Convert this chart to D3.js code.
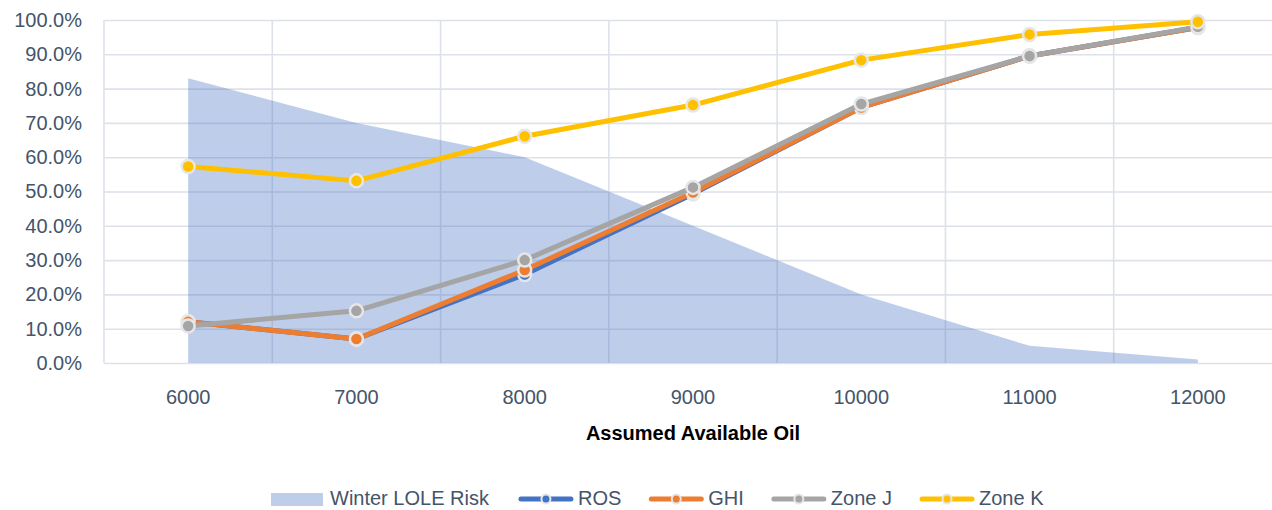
<!DOCTYPE html>
<html>
<head>
<meta charset="utf-8">
<script src="https://cdn.jsdelivr.net/npm/d3@7"></script>
<style>
  html, body { margin: 0; padding: 0; background: #fff; }
  svg { display: block; font-family: "Liberation Sans", Arial, sans-serif; }
</style>
</head>
<body>
<svg id="chart" width="1272" height="510"></svg>
<script>
// Assumed available oil levels (x categories)
const categories = ["6000", "7000", "8000", "9000", "10000", "11000", "12000"];

// Winter LOLE risk (shaded area)
const winterLoleRisk = [0.83, 0.70, 0.60, 0.40, 0.20, 0.05, 0.01];

// Zone lines
const ros   = [0.120, 0.070, 0.258, 0.493, 0.745, 0.895, 0.978];
const ghi   = [0.120, 0.070, 0.271, 0.497, 0.745, 0.895, 0.978];
const zoneJ = [0.108, 0.152, 0.300, 0.512, 0.755, 0.895, 0.980];
const zoneK = [0.573, 0.531, 0.661, 0.752, 0.883, 0.958, 0.995];

const yTicks = [0, 0.1, 0.2, 0.3, 0.4, 0.5, 0.6, 0.7, 0.8, 0.9, 1.0];

const lineSeries = [
  { name: "ROS",    values: ros,   color: "#4472C4" },
  { name: "GHI",    values: ghi,   color: "#ED7D31" },
  { name: "Zone J", values: zoneJ, color: "#A5A5A5" },
  { name: "Zone K", values: zoneK, color: "#FFC000" }
];

const svg = d3.select("#chart");
const plot = { left: 104, right: 1282, top: 20, bottom: 363 };
const textColor = "#44546A";
const gridColor = "#DDE1E9";

const x = d3.scaleBand().domain(categories).range([plot.left, plot.right]).padding(0);
const cx = c => x(c) + x.bandwidth() / 2;
const y = d3.scaleLinear().domain([0, 1]).range([plot.bottom, plot.top]);

// Horizontal gridlines + y labels
const yAxis = svg.append("g")
  .attr("transform", `translate(${plot.left},0)`)
  .call(d3.axisLeft(y).tickValues(yTicks).tickFormat(d3.format(".1%"))
        .tickSize(-(plot.right - plot.left)).tickPadding(22));
yAxis.select(".domain").remove();
yAxis.selectAll(".tick line").attr("stroke", gridColor).attr("stroke-width", 1.6);
yAxis.selectAll(".tick text").attr("fill", textColor).attr("font-size", 20)
  .attr("font-family", "Liberation Sans, Arial, sans-serif");

// Vertical gridlines at category boundaries
svg.append("g").selectAll("line")
  .data(categories.concat([null]))
  .join("line")
  .attr("x1", (d, i) => plot.left + i * x.bandwidth())
  .attr("x2", (d, i) => plot.left + i * x.bandwidth())
  .attr("y1", plot.top).attr("y2", plot.bottom)
  .attr("stroke", gridColor).attr("stroke-width", 1.6);

// X axis labels
const xAxis = svg.append("g")
  .attr("transform", `translate(0,${plot.bottom})`)
  .call(d3.axisBottom(x).tickSize(0).tickPadding(27));
xAxis.select(".domain").remove();
xAxis.selectAll(".tick text").attr("fill", textColor).attr("font-size", 20)
  .attr("font-family", "Liberation Sans, Arial, sans-serif");

// Axis title
svg.append("text")
  .attr("x", (cx(categories[0]) + cx(categories[categories.length - 1])) / 2)
  .attr("y", 440)
  .attr("text-anchor", "middle")
  .attr("font-size", 20).attr("font-weight", "bold").attr("fill", "#000")
  .text("Assumed Available Oil");

// Winter LOLE Risk area
const area = d3.area()
  .x((d, i) => cx(categories[i]))
  .y0(y(0))
  .y1(d => y(d));
svg.append("path")
  .datum(winterLoleRisk)
  .attr("d", area)
  .attr("fill", "#4472C4")
  .attr("fill-opacity", 0.35);

// Lines with markers
const line = d3.line().x((d, i) => cx(categories[i])).y(d => y(d));
lineSeries.forEach(s => {
  const g = svg.append("g");
  g.append("path")
    .datum(s.values)
    .attr("d", line)
    .attr("fill", "none")
    .attr("stroke", s.color)
    .attr("stroke-width", 5)
    .attr("stroke-linejoin", "round");
  g.selectAll("circle")
    .data(s.values)
    .join("circle")
    .attr("cx", (d, i) => cx(categories[i]))
    .attr("cy", d => y(d))
    .attr("r", 6.5)
    .attr("fill", s.color)
    .attr("stroke", "#E6E6E6")
    .attr("stroke-width", 2.5);
});

// Legend
const legend = svg.append("g").attr("font-size", 20).attr("fill", textColor);
let lx = 271;
const ly = 499;
legend.append("rect")
  .attr("x", lx).attr("y", ly - 6).attr("width", 52).attr("height", 13)
  .attr("fill", "#4472C4").attr("fill-opacity", 0.35);
lx += 59;
let t = legend.append("text").attr("x", lx).attr("y", ly + 6).text("Winter LOLE Risk");
lx += t.node().getComputedTextLength() + 30;

lineSeries.forEach(s => {
  legend.append("line")
    .attr("x1", lx + 2).attr("x2", lx + 52)
    .attr("y1", ly).attr("y2", ly)
    .attr("stroke", s.color).attr("stroke-width", 5).attr("stroke-linecap", "round");
  legend.append("circle")
    .attr("cx", lx + 27).attr("cy", ly).attr("r", 4.5)
    .attr("fill", s.color).attr("stroke", "#E6E6E6").attr("stroke-width", 2);
  lx += 59;
  const tt = legend.append("text").attr("x", lx).attr("y", ly + 6).text(s.name);
  lx += tt.node().getComputedTextLength() + 28;
});
</script>
</body>
</html>
